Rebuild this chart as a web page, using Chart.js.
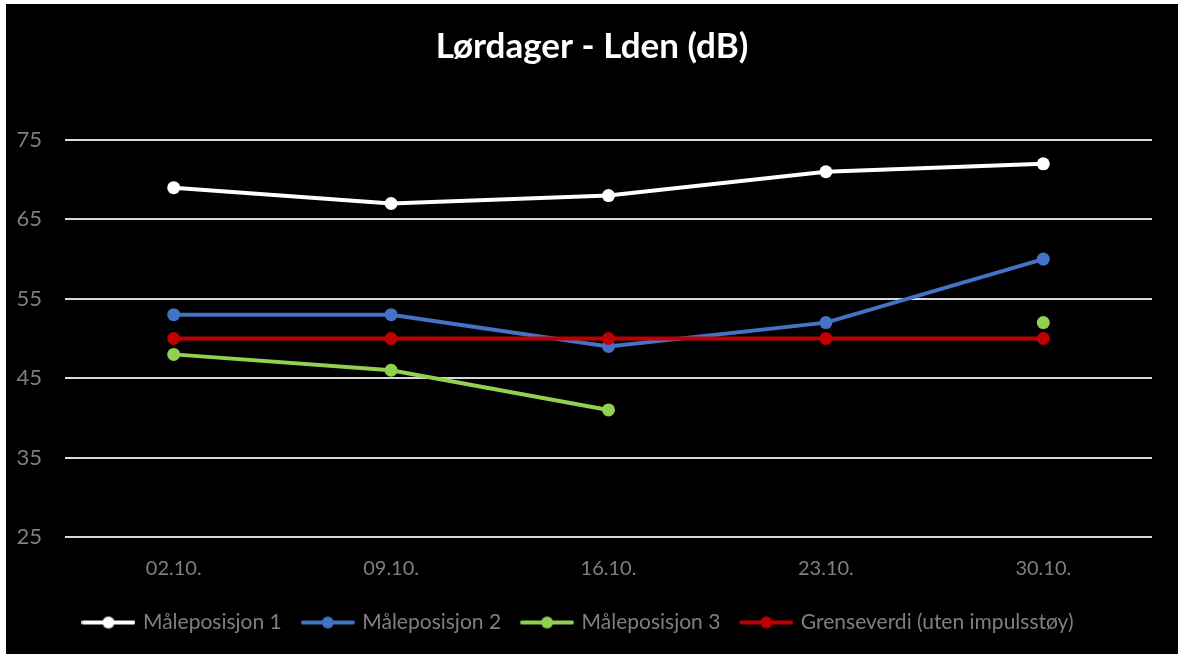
<!DOCTYPE html>
<html>
<head>
<meta charset="utf-8">
<script src="https://cdn.jsdelivr.net/npm/chart.js@4.4.1/dist/chart.umd.min.js"></script>
<style>
  html, body { margin: 0; padding: 0; background: #ffffff; width: 1178px; height: 654px; overflow: hidden; }
  #wrap { position: absolute; left: 6px; top: 4px; width: 1172px; height: 650px; background: #000000; }
  canvas { display: block; }
</style>
</head>
<body>
<div id="wrap"><canvas id="c" width="1172" height="650"></canvas></div>
<script>
const categories = ['02.10.', '09.10.', '16.10.', '23.10.', '30.10.'];
const seriesNames = ['Måleposisjon 1', 'Måleposisjon 2', 'Måleposisjon 3', 'Grenseverdi (uten impulsstøy)'];
const pos1 = [69, 67, 68, 71, 72];
const pos2 = [53, 53, 49, 52, 60];
const pos3 = [48, 46, 41, null, 52];
const limit = [50, 50, 50, 50, 50];
const yTicks = [25, 35, 45, 55, 65, 75];
const colors = ['#ffffff', '#4472c4', '#92d050', '#c00000'];
const titleText = 'Lørdager - Lden (dB)';

const FONT = 'Lato, Calibri, "Open Sans", sans-serif';
const GRAY = '#7f7f7f';
const LEGEND_BOTTOM_PAD = 11;

function legendIcon(color) {
  const cv = document.createElement('canvas');
  cv.width = 54; cv.height = 14;
  const g = cv.getContext('2d');
  g.strokeStyle = color; g.lineWidth = 4; g.lineCap = 'round';
  g.beginPath(); g.moveTo(2, 7); g.lineTo(52, 7); g.stroke();
  g.fillStyle = color;
  g.beginPath(); g.arc(27, 7, 6, 0, Math.PI * 2); g.fill();
  return cv;
}

const allData = [pos1, pos2, pos3, limit];
const datasets = allData.map((d, i) => ({
  label: seriesNames[i],
  data: d,
  borderColor: colors[i],
  backgroundColor: colors[i],
  borderWidth: 4,
  pointRadius: 6.5,
  pointHoverRadius: 6.5,
  pointBorderWidth: 0,
  tension: 0,
  spanGaps: false,
  order: 3 - i
}));

// Center the title on the full canvas width (layout padding only meant for plot/legend)
const centerTitle = {
  id: 'centerTitle',
  afterLayout(chart) {
    if (chart.titleBlock) { chart.titleBlock.left = 0; chart.titleBlock.right = chart.width; }
  }
};

new Chart(document.getElementById('c'), {
  type: 'line',
  data: { labels: categories, datasets },
  plugins: [centerTitle],
  options: {
    responsive: false,
    animation: false,
    devicePixelRatio: 1,
    layout: { padding: { left: 0, right: 26, top: 0, bottom: LEGEND_BOTTOM_PAD } },
    plugins: {
      tooltip: { enabled: false },
      title: {
        display: true,
        text: titleText,
        color: '#ffffff',
        font: { family: FONT, size: 35, weight: 'bold', lineHeight: 1.2 },
        padding: { top: 22, bottom: 72 }
      },
      legend: {
        position: 'bottom',
        labels: {
          color: GRAY,
          font: { family: FONT, size: 21 },
          usePointStyle: true,
          pointStyleWidth: 48,
          padding: 22,
          generateLabels(chart) {
            return chart.data.datasets.map((ds, i) => ({
              text: ds.label,
              fillStyle: ds.borderColor,
              strokeStyle: ds.borderColor,
              fontColor: GRAY,
              lineWidth: 0,
              pointStyle: legendIcon(ds.borderColor),
              hidden: false,
              datasetIndex: i
            }));
          }
        }
      }
    },
    scales: {
      x: {
        offset: true,
        grid: { display: false, drawTicks: false },
        border: { display: false },
        ticks: { color: GRAY, font: { family: FONT, size: 20 }, padding: 20, maxRotation: 0 },
        afterFit(s) { s.height = 650 - LEGEND_BOTTOM_PAD - 533 - s.chart.legend.height; }
      },
      y: {
        min: 25, max: 75,
        afterBuildTicks(s) { s.ticks = yTicks.map(v => ({ value: v })); },
        grid: { color: '#d9d9d9', lineWidth: 2, drawTicks: false, tickLength: 0 },
        border: { display: false },
        ticks: { color: GRAY, font: { family: FONT, size: 22 }, padding: 23 },
        afterFit(s) { s.width = 59; }
      }
    }
  }
});
</script>
</body>
</html>
